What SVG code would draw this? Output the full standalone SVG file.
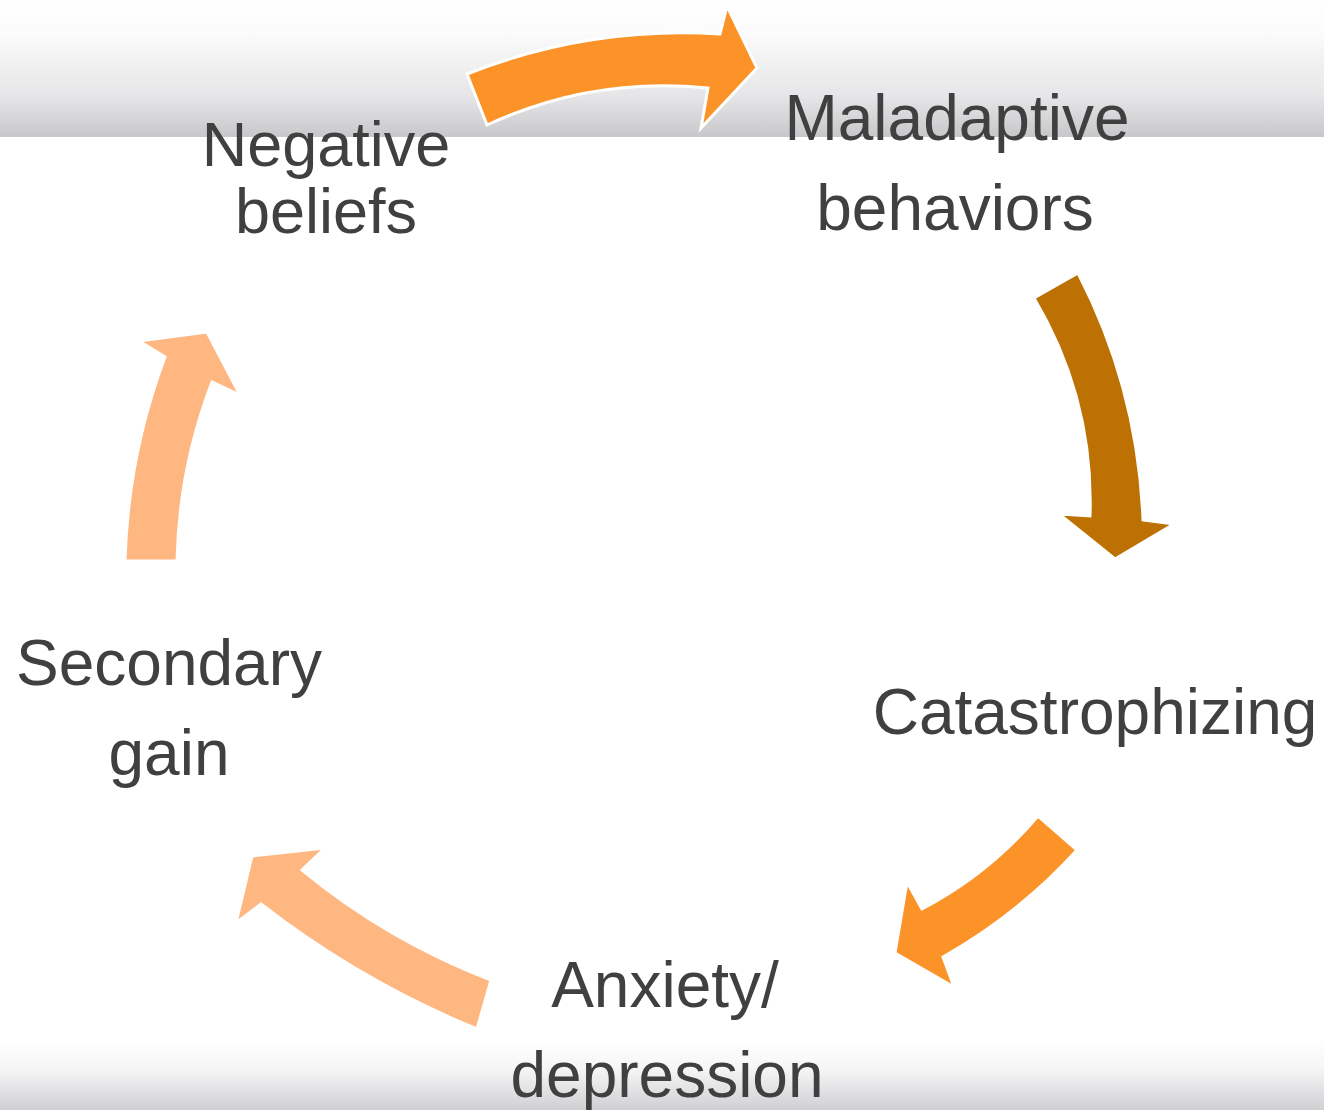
<svg xmlns="http://www.w3.org/2000/svg" width="1324" height="1110" viewBox="0 0 1324 1110">
<defs>
<linearGradient id="topBand" x1="0" y1="0" x2="0" y2="1">
<stop offset="0" stop-color="#ffffff"/>
<stop offset="0.25" stop-color="#fbfbfb"/>
<stop offset="0.7" stop-color="#e6e6e8"/>
<stop offset="1" stop-color="#c8c8cb"/>
</linearGradient>
<linearGradient id="botBand" x1="0" y1="0" x2="0" y2="1">
<stop offset="0" stop-color="#ffffff"/>
<stop offset="0.4" stop-color="#f6f6f7"/>
<stop offset="1" stop-color="#d0d0d3"/>
</linearGradient>
<style>
.lbl{font-family:"Liberation Sans",Arial,sans-serif;font-size:64px;fill:#404040;text-anchor:middle}
.arr{stroke:#ffffff;stroke-width:3;stroke-linejoin:miter}
.a1{fill:#fc9329}
.a2{fill:#bd7102}
.a3{fill:#fc9329}
.a4{fill:#ffb782}
.a5{fill:#ffb782}
</style>
</defs>
<rect x="0" y="0" width="1324" height="1110" fill="#ffffff"/>
<rect x="0" y="0" width="1324" height="137" fill="url(#topBand)"/>
<rect x="0" y="1040" width="1324" height="70" fill="url(#botBand)"/>
<g id="connectors">
<path class="arr a1" d="M467,74 Q589,26 720,34 L727,6 L757,68 L701,128 L708,88 Q592,76 487,125 Z"/>
<path class="arr a2" d="M1078,273 Q1138,389 1143,520 L1174,524 L1115,559 L1059,514 L1090,516 Q1094,399 1034,298 Z"/>
<path class="arr a3" d="M1077,850 Q1019,914 943,957 L954,987 L895,953 L907,882 L922,909 Q989,874 1038,816 Z"/>
<path class="arr a4" d="M477,1029 Q360,981 261,904 L236,923 L252,856 L325,848 L302,870 Q387,940 491,980 Z"/>
<path class="arr a5" d="M125,561 Q128,456 165,357 L139,341 L207,332 L240,395 L212,382 Q179,468 177,561 Z"/>
</g>
<g id="node-negative-beliefs">
<text class="lbl" style="font-size:63px" x="326" y="166">Negative</text>
<text class="lbl" style="font-size:63px" x="326" y="233">beliefs</text>
</g>
<g id="node-maladaptive-behaviors">
<text class="lbl" x="957" y="140">Maladaptive</text>
<text class="lbl" x="955" y="230">behaviors</text>
</g>
<g id="node-catastrophizing">
<text class="lbl" x="1095" y="734">Catastrophizing</text>
</g>
<g id="node-anxiety-depression">
<text class="lbl" x="665" y="1007">Anxiety/</text>
<text class="lbl" x="667" y="1097">depression</text>
</g>
<g id="node-secondary-gain">
<text class="lbl" x="169" y="685">Secondary</text>
<text class="lbl" x="169" y="775">gain</text>
</g>
</svg>
